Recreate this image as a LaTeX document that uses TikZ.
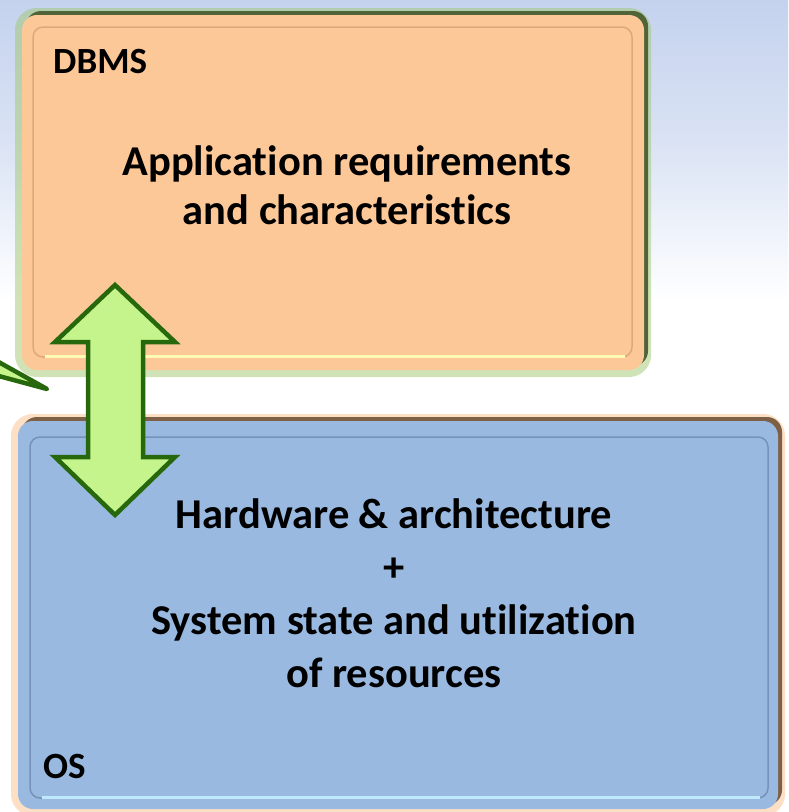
\documentclass[tikz,border=0pt]{standalone}
\usepackage{fontspec}
\setmainfont{Carlito}[Ligatures=NoCommon]
\usetikzlibrary{positioning,shadows}
\definecolor{peach}{RGB}{252,200,152}
\definecolor{peachline}{RGB}{222,168,125}
\definecolor{skyblue}{RGB}{153,185,224}
\definecolor{skyline}{RGB}{118,146,185}
\definecolor{arrowfill}{RGB}{197,244,140}
\definecolor{arrowline}{RGB}{40,104,12}
\definecolor{glowgreen}{RGB}{160,200,110}
\definecolor{gloworange}{RGB}{250,192,140}
\definecolor{bgblue}{RGB}{196,210,238}

\begin{document}
\begin{tikzpicture}[x=1pt,y=-1pt,
    box/.style={rounded corners=15pt,inner sep=0pt,
        drop shadow={shadow xshift=4pt,shadow yshift=4pt,opacity=1,fill=black}},
    glow/.style={preaction={draw=#1,line width=14pt,opacity=.5}},
    title/.style={font=\bfseries\fontsize{42.5}{49}\selectfont,align=center},
    tag/.style={font=\bfseries\fontsize{37}{40}\selectfont,anchor=base west,inner sep=0pt},
    bevel/.style={rounded corners=10pt,line width=1.5pt}]
    \useasboundingbox (0,0) rectangle (788,812);
    \shade[top color=bgblue,bottom color=white,middle color=bgblue!60] (0,0) rectangle (788,300);

    % the two layers
    \node[box,glow=glowgreen,fill=peach,minimum width=622pt,minimum height=355pt] (dbms) at (333,192.5) {};
    \draw[bevel,draw=peachline] (33,27) rectangle (632,357);
    \draw[line width=3pt,draw=white!70!yellow] (45,356) -- (625,356);

    \node[box,glow=gloworange,fill=skyblue,minimum width=760pt,minimum height=388pt] (os) at (398,615) {};
    \draw[bevel,draw=skyline] (30,437) rectangle (768,798);
    \draw[line width=3pt,draw=white!75!cyan] (42,797) -- (760,797);

    \node[tag] (dbmslabel) at (53,73) {DBMS};
    \node[tag] (oslabel) at (43,778) {OS};

    \node[title] (apptext) at (347,185) {Application requirements\\and characteristics};
    \node[title,font=\bfseries\fontsize{42.5}{53}\selectfont] (hwtext) at (394,593)
        {Hardware \& architecture\\+\\System state and utilization\\of resources};

    % link between them
    \draw[line width=4.5pt,draw=arrowline,fill=arrowfill,line join=miter]
        (115,285) -- (175,342) -- (143,342) -- (143,457) -- (175,457) -- (115,515)
        -- (55,457) -- (88,457) -- (88,342) -- (55,342) -- cycle;
    \draw[line width=4.5pt,draw=arrowline,fill=arrowfill,line join=round]
        (-5,360) -- (47,389) -- (-5,375);
\end{tikzpicture}
\end{document}
